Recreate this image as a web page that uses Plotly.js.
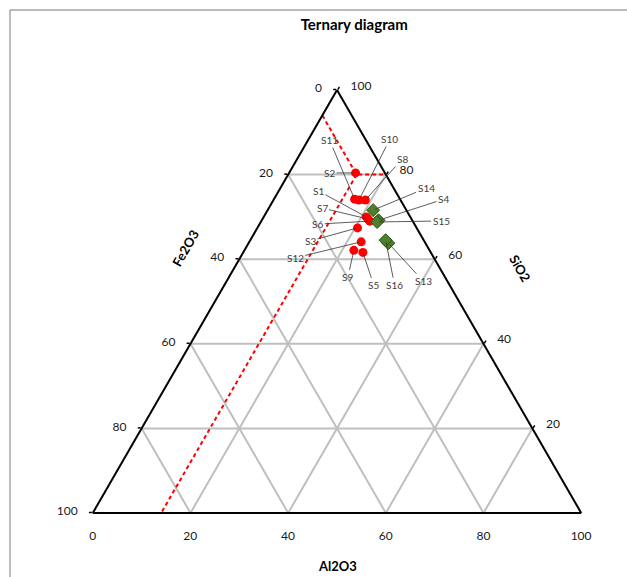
<!DOCTYPE html>
<html>
<head>
<meta charset="utf-8">
<script src="https://cdn.plot.ly/plotly-3.0.1.min.js"></script>
<style>
  html, body { margin: 0; padding: 0; background: #ffffff; }
  #chart { width: 627px; height: 577px; }
</style>
</head>
<body>
<div id="chart"></div>
<script>
// ---------- data (compositions, %) ----------
const redNames  = ['S1','S2','S3','S5','S6','S7','S8','S9','S10','S11','S12'];
const redSiO2   = [70.0, 80.4, 67.4, 61.6, 69.0, 69.5, 74.0, 62.1, 74.0, 74.2, 64.1];
const redAl2O3  = [21.0, 13.6, 20.5, 24.5, 22.2, 21.6, 18.8, 22.4, 17.5, 16.5, 22.9];
const redFe2O3  = [ 9.0,  6.0, 12.1, 13.9,  8.8,  8.9,  7.2, 15.5,  8.5,  9.3, 13.0];

const greenNames = ['S4','S13','S14','S15','S16'];
const greenSiO2  = [69.2, 63.8, 71.6, 68.8, 64.5];
const greenAl2O3 = [23.9, 28.6, 21.6, 23.8, 27.7];
const greenFe2O3 = [ 6.9,  7.6,  6.8,  7.4,  7.8];

// red dashed boundary (two polylines)
const bound1SiO2  = [94, 80, 80];
const bound1Al2O3 = [ 0, 14, 20];
const bound1Fe2O3 = [ 6,  6,  0];
const bound2SiO2  = [80,  0];
const bound2Al2O3 = [14, 14];
const bound2Fe2O3 = [ 6, 86];

// tick values / labels
const tickVals       = [0, 20, 40, 60, 80, 100];
const leftTickText   = ['100', '80', '60', '40', '20', '0'];   // Fe2O3 along left edge
const bottomTickText = ['100', '80', '60', '40', '20', '0'];   // Al2O3 along bottom edge
const rightTickVals  = [0, 20, 40, 60, 80];
const rightTickText  = ['100', '80', '60', '40', '20'];        // SiO2 along right edge

// ---------- layout geometry / label placement (pixels) ----------
const W = 627, H = 577;
const M = { l: 60, r: 13, t: 90, b: 64 };
const labelOffsets = {
  S11: [-25, -59], S10: [31, -61], S8: [37, -41], S2: [-26, 0],
  S1: [-48, -26], S7: [-46, -11], S6: [-52, 3], S3: [-47, 13],
  S12: [-66, 16], S9: [-6, 27], S5: [11, 33], S16: [9, 45],
  S13: [35, 38], S14: [53, -22], S4: [65, -21], S15: [64, -1]
};
const PAD3 = '\u00a0\u00a0\u00a0';
const PAD4 = '\u00a0\u00a0\u00a0\u00a0';

const gsw = W - M.l - M.r, gsh = H - M.t - M.b;
const triH = Math.min(gsh, gsw * Math.sqrt(3) / 2);
const triW = triH * 2 / Math.sqrt(3);
const X0 = M.l + gsw / 2 - triW / 2;
const Y0 = M.t + gsh / 2 - triH / 2;
function toPx(si, al) { return [X0 + triW * (al + si / 2) / 100, Y0 + triH * (1 - si / 100)]; }
function pX(px) { return (px - M.l) / gsw; }
function pY(py) { return 1 - (py - M.t) / gsh; }

const font = 'Lato, "Liberation Sans", Arial, sans-serif';

const traces = [
  {
    type: 'scatterternary', mode: 'lines',
    a: bound1SiO2, b: bound1Fe2O3, c: bound1Al2O3,
    line: { color: '#ff0000', width: 2, dash: '4px,3px' },
    hoverinfo: 'skip', showlegend: false
  },
  {
    type: 'scatterternary', mode: 'lines',
    a: bound2SiO2, b: bound2Fe2O3, c: bound2Al2O3,
    line: { color: '#ff0000', width: 2, dash: '4px,3px' },
    hoverinfo: 'skip', showlegend: false
  },
  {
    type: 'scatterternary', mode: 'markers', name: 'red',
    a: redSiO2, b: redFe2O3, c: redAl2O3, text: redNames,
    marker: { symbol: 'circle', size: 9, color: '#ff0000', line: { width: 0 } },
    showlegend: false, cliponaxis: false
  },
  {
    type: 'scatterternary', mode: 'markers', name: 'green',
    a: greenSiO2, b: greenFe2O3, c: greenAl2O3, text: greenNames,
    marker: { symbol: 'diamond', size: 10, color: '#4f7f2a', line: { width: 1, color: '#2f5418' } },
    showlegend: false, cliponaxis: false
  }
];

const annotations = [];
function addLabels(names, si, al) {
  names.forEach((n, i) => {
    const p = toPx(si[i], al[i]);
    const o = labelOffsets[n];
    annotations.push({
      xref: 'paper', yref: 'paper', x: pX(p[0]), y: pY(p[1]),
      text: n, showarrow: true, ax: o[0], ay: o[1],
      arrowhead: 0, arrowwidth: 0.8, arrowcolor: '#333333', standoff: 2,
      font: { family: font, size: 10, color: '#404040' }
    });
  });
}
addLabels(redNames, redSiO2, redAl2O3);
addLabels(greenNames, greenSiO2, greenAl2O3);

// axis titles
const leftEdge = toPx(62.6, 0), rightEdge = toPx(57.9, 42.1);
annotations.push({ xref: 'paper', yref: 'paper', x: pX(leftEdge[0] - 60), y: pY(leftEdge[1]),
  xanchor: 'center', yanchor: 'middle',
  text: '<b>Fe2O3</b>', showarrow: false, textangle: -60, font: { family: font, size: 13, color: '#000' } });
annotations.push({ xref: 'paper', yref: 'paper', x: pX(rightEdge[0] + 80), y: pY(rightEdge[1]),
  xanchor: 'center', yanchor: 'middle',
  text: '<b>SiO2</b>', showarrow: false, textangle: 60, font: { family: font, size: 13, color: '#000' } });
annotations.push({ xref: 'paper', yref: 'paper', x: pX(X0 + triW / 2), y: pY(566),
  xanchor: 'center', yanchor: 'middle',
  text: '<b>Al2O3</b>', showarrow: false, font: { family: font, size: 13, color: '#000' } });

const axisCommon = {
  showline: true, linecolor: '#000000', linewidth: 2,
  showgrid: true, gridcolor: '#bfbfbf', gridwidth: 2,
  ticks: 'outside', ticklen: 3, tickwidth: 1.5, tickcolor: '#000000',
  tickfont: { family: font, size: 12, color: '#1a1a1a' },
  tickmode: 'array', title: { text: '' }
};

const layout = {
  width: W, height: H,
  margin: M,
  paper_bgcolor: '#ffffff',
  font: { family: font },
  showlegend: false,
  title: { text: '<b>Ternary diagram</b>', x: 333 / W, xanchor: 'center', xref: 'paper',
           y: 1 - 25 / H, yanchor: 'middle', yref: 'container',
           font: { family: font, size: 15, color: '#000000' } },
  ternary: {
    sum: 100,
    bgcolor: '#ffffff',
    aaxis: Object.assign({}, axisCommon, { tickvals: tickVals, ticktext: leftTickText.map(t => t + PAD3) }),
    baxis: Object.assign({}, axisCommon, { tickvals: tickVals, ticktext: bottomTickText.map(t => t + PAD4),
                                           ticklen: 12, tickcolor: 'rgba(0,0,0,0)' }),
    caxis: Object.assign({}, axisCommon, { tickvals: rightTickVals, ticktext: rightTickText.map(t => PAD3 + t) })
  },
  shapes: [{
    type: 'rect', xref: 'paper', yref: 'paper', layer: 'below',
    x0: pX(10), x1: pX(700), y0: pY(700), y1: pY(10),
    line: { color: '#7a7a7a', width: 1 }, fillcolor: 'rgba(0,0,0,0)'
  }],
  annotations: annotations
};

Plotly.newPlot('chart', traces, layout, { displayModeBar: false, staticPlot: true });
</script>
</body>
</html>
